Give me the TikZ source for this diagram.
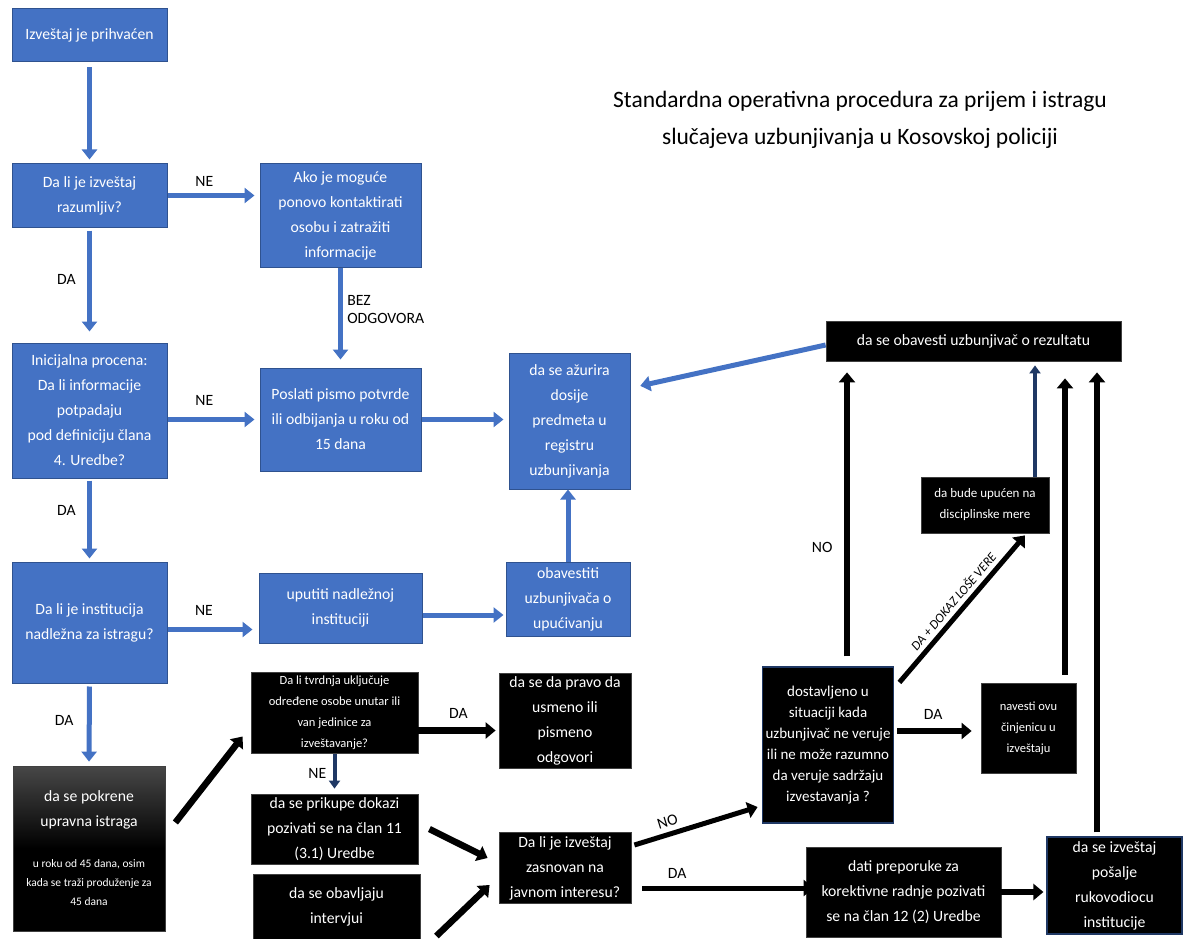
\documentclass[tikz,border=0pt]{standalone}
\usepackage{fontspec}
\setmainfont{Carlito}
\usetikzlibrary{arrows.meta, positioning}

\definecolor{boxblue}{HTML}{4472C4}
\definecolor{edgeblue}{HTML}{2F528F}
\definecolor{navyedge}{HTML}{1F3864}

\newcommand\pokrsmall{\fontsize{11.5}{19}\selectfont}

\begin{document}
\begin{tikzpicture}[x=1pt, y=-1pt,
    bluebox/.style={rectangle, fill=boxblue, draw=edgeblue, line width=1pt, text=white, align=center, font=\fontsize{15.7}{25}\selectfont},
    blackbox/.style={rectangle, fill=black, draw=black!75, line width=0.8pt, text=white, align=center, font=\fontsize{15.7}{25}\selectfont},
    smallbox/.style={blackbox, font=\fontsize{12.5}{21}\selectfont},
    barrow/.style={-{Triangle[length=10pt, width=15pt]}, line width=5pt, draw=boxblue},
    karrow/.style={-{Triangle[length=10pt, width=16pt]}, line width=6.5pt, draw=black},
    lbl/.style={font=\fontsize{15.7}{18}\selectfont, text=black}]

    \fill[white] (0,0) rectangle (1184,939);
    \useasboundingbox (0,0) rectangle (1184,939);

    \node[font=\fontsize{23.5}{37}\selectfont, align=center] (title) at (860,120) {Standardna operativna procedura za prijem i istragu\\slučajeva uzbunjivanja u Kosovskoj policiji};

    \node[bluebox, minimum width=155pt, minimum height=53pt] (prihv) at (89.5,35.5) {Izveštaj je prihvaćen};
    \node[bluebox, minimum width=155pt, minimum height=63pt] (razum) at (89.5,195.5) {Da li je izveštaj\\razumljiv?};
    \node[bluebox, minimum width=161pt, minimum height=103pt] (kontakt) at (340.5,215.5) {Ako je moguće\\ponovo kontaktirati\\osobu i zatražiti\\informacije};
    \node[bluebox, minimum width=155pt, minimum height=135pt] (inicij) at (89.5,410.5) {Inicijalna procena:\\Da li informacije\\potpadaju\\pod definiciju člana\\4. Uredbe?};
    \node[bluebox, minimum width=161pt, minimum height=103pt] (pismo) at (340.5,419.5) {Poslati pismo potvrde\\ili odbijanja u roku od\\15 dana};
    \node[bluebox, minimum width=121pt, minimum height=136pt] (azur) at (569.5,421) {da se ažurira\\dosije\\predmeta u\\registru\\uzbunjivanja};
    \node[bluebox, minimum width=155pt, minimum height=121pt] (nadl) at (89.5,622.5) {Da li je institucija\\nadležna za istragu?};
    \node[bluebox, minimum width=163pt, minimum height=70pt] (uputi) at (340.5,608) {uputiti nadležnoj\\instituciji};
    \node[bluebox, minimum width=124pt, minimum height=74pt] (obav) at (568,599) {obavestiti\\uzbunjivača o\\upućivanju};

    \node[blackbox, top color=black!72, bottom color=black, middle color=black, minimum width=152pt, minimum height=165pt] (pokr) at (89,848.5) {da se pokrene\\upravna istraga\\[16pt]\pokrsmall u roku od 45 dana, osim\\[-6pt]\pokrsmall kada se traži produženje za\\[-6pt]\pokrsmall 45 dana};
    \node[smallbox, minimum width=167pt, minimum height=81pt] (tvrd) at (334.5,712.5) {Da li tvrdnja uključuje\\određene osobe unutar ili\\van jedinice za\\izveštavanje?};
    \node[blackbox, minimum width=132pt, minimum height=92pt] (pravo) at (565,721) {da se da pravo da\\usmeno ili\\pismeno\\odgovori};
    \node[blackbox, minimum width=167pt, minimum height=70pt] (prik) at (334.5,829) {da se prikupe dokazi\\pozivati se na član 11\\(3.1) Uredbe};
    \node[blackbox, minimum width=167pt, minimum height=66pt] (interv) at (336.5,907) {da se obavljaju\\intervjui};
    \node[blackbox, minimum width=132pt, minimum height=70pt] (zasn) at (565,868) {Da li je izveštaj\\zasnovan na\\javnom interesu?};
    \node[smallbox, draw=navyedge, line width=1.2pt, font=\fontsize{15}{21}\selectfont, minimum width=128pt, minimum height=156pt] (dost) at (828,745) {dostavljeno u\\situaciji kada\\uzbunjivač ne veruje\\ili ne može razumno\\da veruje sadržaju\\izvestavanja ?};
    \node[smallbox, minimum width=95pt, minimum height=90pt] (navesti) at (1028.5,728) {navesti ovu\\činjenicu u\\izveštaju};
    \node[blackbox, minimum width=295pt, minimum height=40pt] (obrez) at (973.5,341) {da se obavesti uzbunjivač o rezultatu};
    \node[smallbox, font=\fontsize{13}{21}\selectfont, minimum width=128pt, minimum height=56pt] (disc) at (985,505) {da bude upućen na\\disciplinske mere};
    \node[blackbox, minimum width=195pt, minimum height=90pt] (prep) at (903.5,892) {dati preporuke za\\korektivne radnje pozivati\\se na član 12 (2) Uredbe};
    \node[blackbox, draw=navyedge, line width=1.2pt, minimum width=135pt, minimum height=97pt] (ruk) at (1114.5,885.5) {da se izveštaj\\pošalje\\rukovodiocu\\institucije};

    \draw[barrow, shorten <=5pt, shorten >=4pt] (prihv.south) -- (razum.north);
    \draw[barrow, shorten >=5pt] (razum.east) -- node[lbl, pos=0.4, above=3pt] {NE} (razum.east -| kontakt.west);
    \draw[barrow, shorten <=3pt, shorten >=11pt] (razum.south) -- node[lbl, pos=0.45, left=8pt] {DA} (inicij.north);
    \draw[barrow, shorten >=8pt] (kontakt.south) -- node[lbl, pos=0.42, right=1pt, align=left] {BEZ\\ODGOVORA} (pismo.north);
    \draw[barrow, shorten >=5pt] (inicij.east |- pismo.west) -- node[lbl, pos=0.4, above=8pt] {NE} (pismo.west);
    \draw[barrow, shorten >=5pt] (pismo.east) -- (pismo.east -| azur.west);
    \draw[barrow, shorten <=2pt, shorten >=3pt] (inicij.south) -- node[lbl, pos=0.38, left=8pt] {DA} (nadl.north);
    \draw[barrow, shorten >=6pt] ([yshift=-7pt]nadl.east) -- node[lbl, pos=0.4, above=8pt] {NE} ([yshift=-7pt]nadl.east -| uputi.west);
    \draw[barrow, shorten >=2pt] ([yshift=-7pt]uputi.east) -- ([yshift=-7pt]uputi.east -| obav.west);
    \draw[barrow] (obav.north) -- (obav.north |- azur.south);
    \draw[barrow, shorten >=10pt] ([yshift=-4pt]obrez.west) -- ([yshift=33pt]azur.east);
    \draw[barrow, shorten <=3pt, shorten >=4pt] (nadl.south) -- node[lbl, pos=0.45, left=10pt] {DA} (pokr.north);

    \draw[karrow] ([xshift=10pt, yshift=26pt]pokr.east) -- ([xshift=-8pt, yshift=-24pt]tvrd.west);
    \draw[karrow, shorten >=3pt] ([yshift=-18pt]tvrd.east) -- node[lbl, pos=0.5, above=5pt] {DA} ([yshift=-18pt]tvrd.east -| pravo.west);
    \draw[karrow, line width=4pt, draw=navyedge, -{Triangle[length=8pt, width=11pt]}, shorten <=1pt, shorten >=5pt] (tvrd.south) -- node[lbl, pos=0.5, left=3pt] {NE} (prik.north);
    \draw[karrow] ([xshift=11pt]prik.east) -- ([xshift=-11pt, yshift=10pt]zasn.west);
    \draw[karrow] ([xshift=16pt, yshift=-29pt]interv.east) -- ([xshift=-9pt, yshift=-17pt]zasn.west);
    \draw[karrow, line width=5pt] ([xshift=3pt, yshift=23pt]zasn.east) -- node[lbl, pos=0.3, above=2pt, sloped] {NO} ([xshift=-4pt, yshift=-62pt]dost.west);
    \draw[karrow, line width=5pt, shorten >=3pt] ([xshift=11pt, yshift=-20pt]zasn.east) -- node[lbl, pos=0.2, above=4pt] {DA} ([xshift=11pt, yshift=-20pt]zasn.east -| prep.west);
    \draw[karrow, shorten >=3pt] (prep.east) -- (prep.east -| ruk.west);
    \draw[karrow, shorten <=3pt, shorten >=9pt] ([yshift=14pt]dost.east) -- node[lbl, pos=0.45, above=5pt] {DA} ([yshift=14pt]dost.east -| navesti.west);
    \draw[karrow, line width=5pt] ([xshift=5pt, yshift=-16pt]dost.north east) -- node[pos=0.5, above=1pt, sloped, font=\fontsize{13}{15}\selectfont\itshape] {DA + DOKAZ LOŠE VERE} ([xshift=40pt, yshift=-2pt]disc.south);
    \draw[karrow, shorten <=10pt, shorten >=11pt] ([xshift=19pt]dost.north) -- node[lbl, pos=0.39, left=8pt] {NO} ([xshift=19pt]dost.north |- obrez.south);
    \draw[karrow, line width=4pt, draw=navyedge, -{Triangle[length=8pt, width=11pt]}, shorten >=4pt] ([xshift=50pt]disc.north) -- ([xshift=50pt]disc.north |- obrez.south);
    \draw[karrow, shorten <=8pt, shorten >=17pt] ([xshift=36.5pt]navesti.north) -- ([xshift=36.5pt]navesti.north |- obrez.south);
    \draw[karrow, shorten <=4pt, shorten >=11pt] ([xshift=-17.5pt]ruk.north) -- ([xshift=-17.5pt]ruk.north |- obrez.south);
\end{tikzpicture}
\end{document}
